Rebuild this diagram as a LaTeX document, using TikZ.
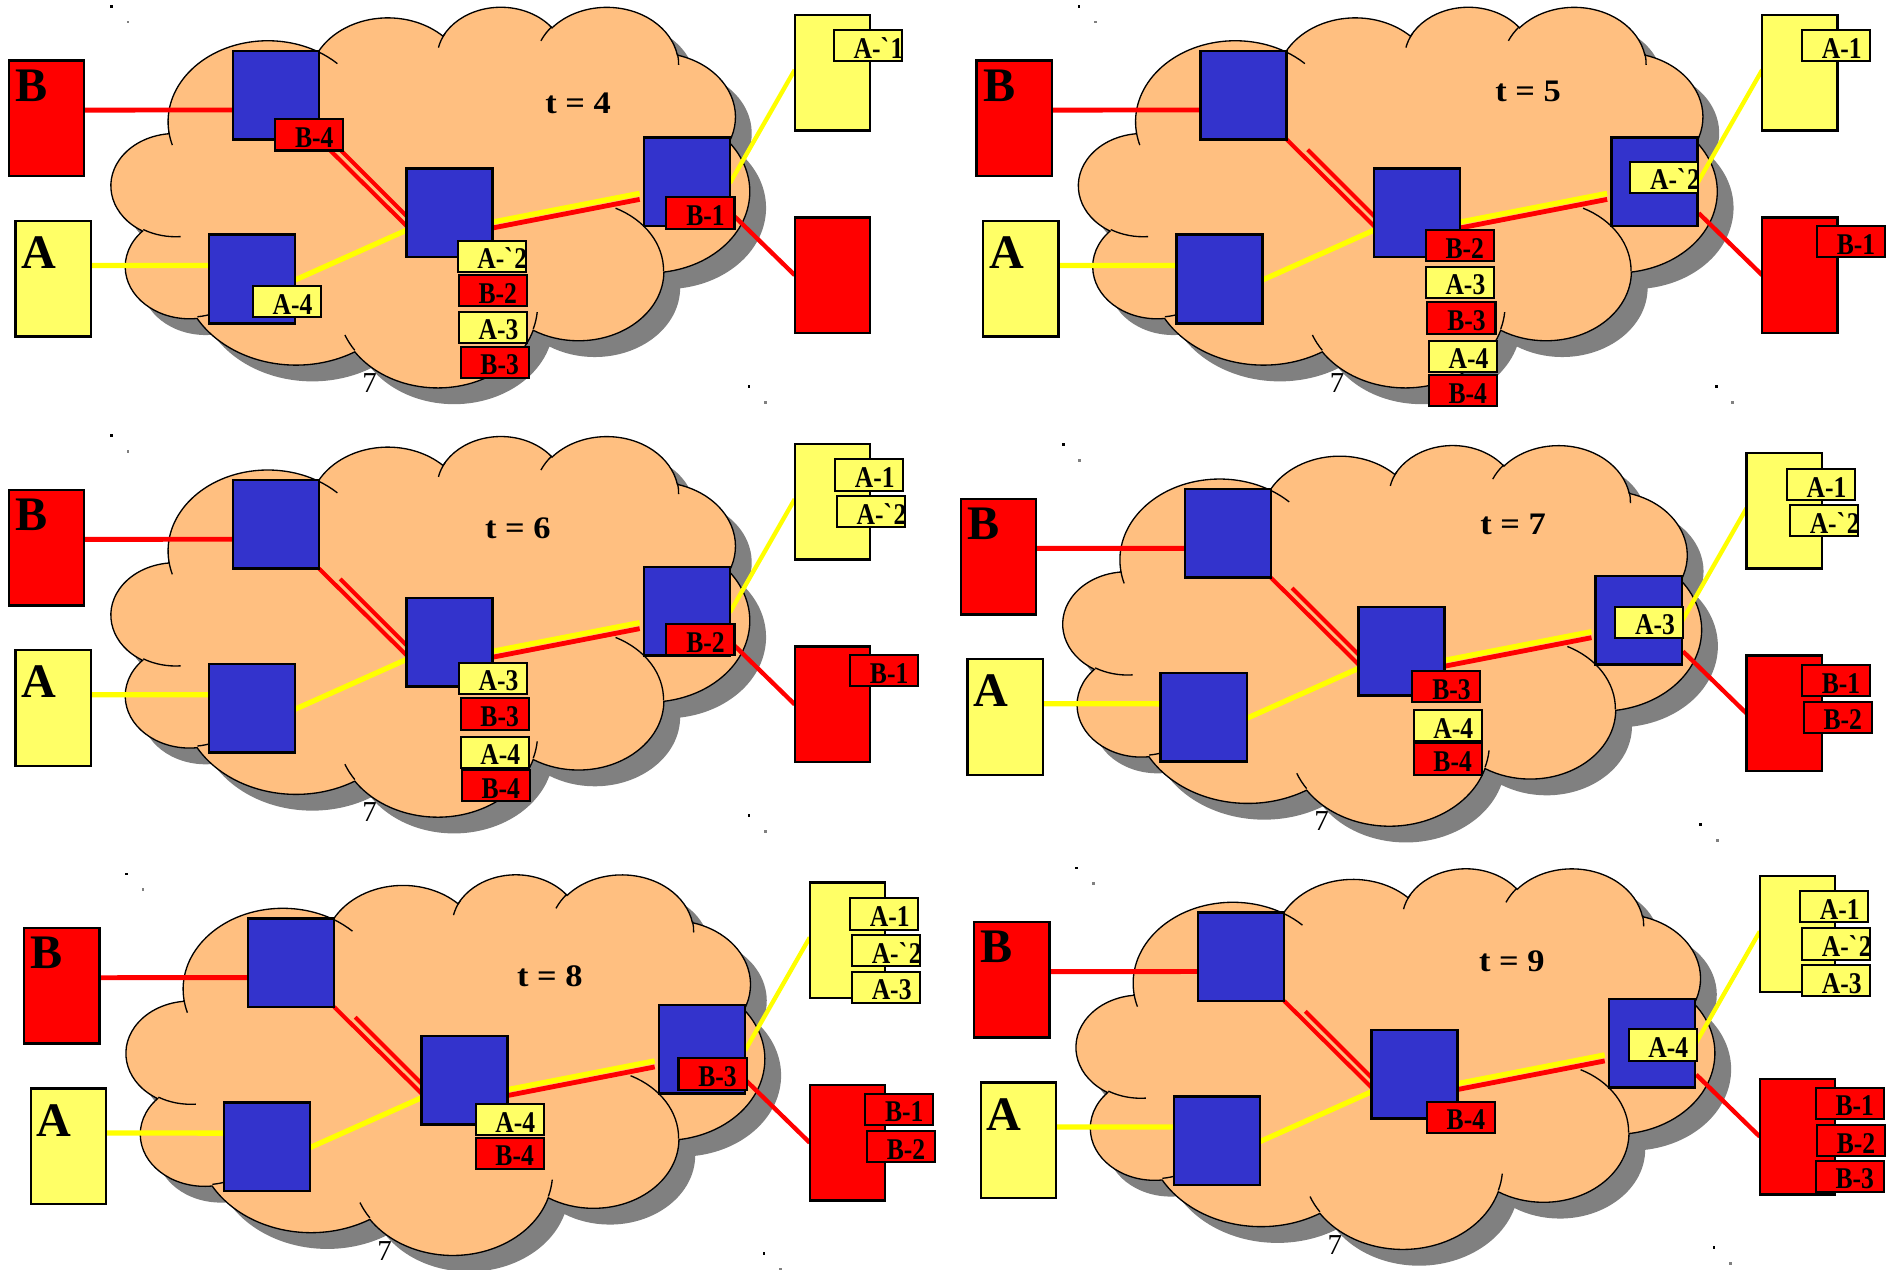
\documentclass[tikz,border=0pt]{standalone}
\usepackage{fontspec}
\setmainfont{Liberation Serif}
\newfontfamily\pktfont{Liberation Serif}[FakeStretch=0.85]
\newfontfamily\tfont{Liberation Serif}[FakeStretch=1.1]
\definecolor{hostred}{HTML}{FF0000}
\definecolor{hostyellow}{HTML}{FFFF66}
\definecolor{lineyellow}{HTML}{FFFF00}
\definecolor{routerblue}{HTML}{3333CC}
\definecolor{cloudfill}{HTML}{FFBF80}
\definecolor{cloudshadow}{HTML}{808080}
\pgfdeclarelayer{bglayer}
\pgfdeclarelayer{cloudlayer}
\pgfdeclarelayer{linelayer}
\pgfsetlayers{bglayer,cloudlayer,linelayer,main}

\makeatletter
\newcommand\addcloudarc[5]{%
  \pgfmathsetmacro\ca@a{atan2((#2)*sin(#4),(#3)*cos(#4))}%
  \pgfmathsetmacro\ca@b{atan2((#2)*sin((#4)+(#5)),(#3)*cos((#4)+(#5)))}%
  \pgfmathsetmacro\ca@d{\ca@b-\ca@a}%
  \pgfmathsetmacro\ca@d{ifthenelse(and(#5>0,\ca@d<0),\ca@d+360,ifthenelse(and(#5<0,\ca@d>0),\ca@d-360,\ca@d))}%
  \xdef#1{#1 arc[start angle=\ca@a, delta angle=\ca@d, x radius=#2pt, y radius=#3pt]}%
}
\makeatother
% PowerPoint preset cloud (coordinates /10 of the 43200 grid)
\xdef\cloudouter{(390pt,1437pt)}
\addcloudarc\cloudouter{675.3}{919.0}{-190.4875}{123.7805}
\addcloudarc\cloudouter{533.3}{726.7}{-144.1024}{89.9452}
\addcloudarc\cloudouter{436.5}{594.5}{-145.8079}{99.7230}
\addcloudarc\cloudouter{485.7}{659.5}{-130.9861}{117.2417}
\addcloudarc\cloudouter{533.3}{727.3}{-78.7089}{109.0269}
\addcloudarc\cloudouter{677.5}{922.0}{-46.2673}{130.2690}
\addcloudarc\cloudouter{578.5}{786.7}{0.6250}{114.0333}
\addcloudarc\cloudouter{675.2}{921.5}{22.4516}{115.1726}
\addcloudarc\cloudouter{772.0}{1054.3}{66.2426}{75.7110}
\addcloudarc\cloudouter{436.0}{591.8}{-274.9421}{146.7356}
\addcloudarc\cloudouter{434.5}{594.5}{-246.8285}{152.5189}
\xdef\cloudouter{\cloudouter -- cycle}
\xdef\cloudinner{(469.3pt,2617.7pt)}
\addcloudarc\cloudinner{434.5}{594.5}{86.7420}{26.4295}
\xdef\cloudinner{\cloudinner (692.8pt,3489.9pt)}
\addcloudarc\cloudinner{436.0}{591.8}{73.6105}{11.4475}
\xdef\cloudinner{\cloudinner (1647.8pt,3909.0pt)}
\addcloudarc\cloudinner{675.2}{921.5}{137.6242}{14.0811}
\xdef\cloudinner{\cloudinner (2882.7pt,3475.1pt)}
\addcloudarc\cloudinner{675.2}{921.5}{6.4533}{15.9984}
\xdef\cloudinner{\cloudinner (3412.9pt,2295.4pt)}
\addcloudarc\cloudinner{578.5}{786.7}{-70.2924}{70.9174}
\xdef\cloudinner{\cloudinner (4179.8pt,1535.4pt)}
\addcloudarc\cloudinner{533.3}{727.3}{30.3180}{27.7515}
\xdef\cloudinner{\cloudinner (3832.4pt,542.6pt)}
\addcloudarc\cloudinner{485.7}{659.5}{-13.7443}{14.8589}
\xdef\cloudinner{\cloudinner (2907.8pt,395.2pt)}
\addcloudarc\cloudinner{485.7}{659.5}{-149.1815}{18.1954}
\xdef\cloudinner{\cloudinner (2214.1pt,472.0pt)}
\addcloudarc\cloudinner{436.5}{594.5}{-163.4943}{20.7582}
\xdef\cloudinner{\cloudinner (1400.0pt,519.2pt)}
\addcloudarc\cloudinner{675.3}{919.0}{-66.7070}{12.3194}
\xdef\cloudinner{\cloudinner (412.7pt,1578.9pt)}
\addcloudarc\cloudinner{675.3}{919.0}{157.6544}{11.8582}

\tikzset{
  host/.style={draw=black, line width=1pt, minimum width=31.25pt, minimum height=48pt, inner sep=0pt, outer sep=0pt},
  router/.style={draw=black, line width=1.1pt, fill=routerblue, minimum width=35.75pt, minimum height=36.75pt, inner sep=0pt, outer sep=0pt},
  pktbox/.style={draw=black, line width=0.85pt, minimum width=28.25pt, minimum height=13pt, inner sep=0pt, outer sep=0pt, text height=11.65pt, text depth=1.35pt, anchor=north west, font=\pktfont\bfseries\fontsize{12.5}{13}\selectfont},
  bigtxt/.style={anchor=base west, inner sep=0pt, font=\bfseries\fontsize{20}{20}\selectfont},
  ttxt/.style={anchor=base west, inner sep=0pt, font=\tfont\bfseries\fontsize{13}{13}\selectfont},
  seventxt/.style={anchor=base west, inner sep=0pt, font=\fontsize{12}{12}\selectfont},
  cloudedge/.style={draw=black, line width=0.55pt},
  redline/.style={draw=hostred, line width=2pt},
  dredline/.style={draw=hostred, line width=1.7pt},
  yelline/.style={draw=lineyellow, line width=2.2pt},
  thinyel/.style={draw=lineyellow, line width=1.8pt},
  thinred/.style={draw=hostred, line width=1.8pt}
}
\newcommand\pkt[4]{\node[pktbox, fill=#2] (#1) at (#3) {\makebox[28.25pt][l]{\hspace*{8.25pt}#4}};}
\newcommand\netbase[1]{%
  \begin{pgfonlayer}{cloudlayer}
    \begin{scope}[shift={(106,18.5)},xscale=0.0613426,yscale=-0.0365741]
      \fill[cloudshadow] \cloudouter;
    \end{scope}
    \begin{scope}[shift={(92.5,5)},xscale=0.0613426,yscale=-0.0365741]
      \fill[cloudfill] \cloudouter;
      \draw[cloudedge] \cloudouter;
      \draw[cloudedge] \cloudinner;
    \end{scope}
  \end{pgfonlayer}
  \node[host,fill=hostred] (#1B) at (38.75,98.25) {};
  \node[host,fill=hostyellow] (#1A) at (44.25,231.5) {};
  \node[host,fill=hostyellow] (#1DA) at (691.25,60.25) {};
  \node[host,fill=hostred] (#1DB) at (691.25,228.5) {};
  \node[router] (#1R1) at (229.25,79) {};
  \node[router] (#1R2) at (209.25,231.75) {};
  \node[router] (#1R3) at (373.25,176.75) {};
  \node[router] (#1R4) at (570.5,151) {};
  \node[bigtxt] (#1Bt) at (12.5,84) {B};
  \node[bigtxt] (#1At) at (17.5,223) {A};
  \node[seventxt] (#1s) at (300.6,326) {7};
  \fill[black] (91.4,4.2) rectangle +(2.4,2.4);
  \fill[cloudshadow] (105.1,17.1) rectangle +(2.4,2.4);
  \fill[black] (620.8,319.6) rectangle +(2.4,2.4);
  \fill[cloudshadow] (634.4,332.9) rectangle +(2.4,2.4);
  \begin{pgfonlayer}{linelayer}
    \draw[redline] ([yshift=3.4pt]#1B.east) -- ([yshift=-6.2pt]#1R1.west);
    \draw[yelline] ([yshift=5.5pt]#1A.east) -- ([yshift=5.6pt]#1R2.west);
    \draw[yelline] ([yshift=-0.4pt]#1R2.east) -- ([xshift=0.75pt,yshift=-6.9pt]#1R3.west);
    \draw[dredline] (#1R1.south east) -- ([xshift=1pt,yshift=-6.4pt]#1R3.west);
    \draw[dredline] ([xshift=8.75pt,yshift=-4.3pt]#1R1.south east) -- ([xshift=1pt,yshift=-2.3pt]#1R3.west);
    \draw[yelline] ([xshift=-1.25pt,yshift=-4.1pt]#1R3.east) -- ([xshift=-1.75pt,yshift=-4.8pt]#1R4.west);
    \draw[redline] ([xshift=-0.5pt,yshift=-6.4pt]#1R3.east) -- ([xshift=-1.75pt,yshift=-7.3pt]#1R4.west);
    \draw[thinyel] ([yshift=-0.5pt]#1R4.east) -- ([yshift=1.1pt]#1DA.west);
    \draw[thinred] ([xshift=0.5pt,yshift=-13pt]#1R4.east) -- (#1DB.west);
  \end{pgfonlayer}
}

\begin{document}
\begin{tikzpicture}[x=0.5pt,y=-0.5pt]
\useasboundingbox (0,0) rectangle (1568,1054);
\begin{pgfonlayer}{bglayer}
\fill[white] (0,0) rectangle (1568,1054);
\end{pgfonlayer}
% ---- t = 4
\begin{scope}[shift={(0,0)}]
  \netbase{p1}
  \node[ttxt] (p1t) at (452.5,94) {t = 4};
  \pkt{p1b4}{hostred}{228.5,99}{B-4}
  \pkt{p1a4}{hostyellow}{210,237.5}{A-4}
  \pkt{p1a2}{hostyellow}{380,200}{A-\textasciigrave2}
  \pkt{p1b2}{hostred}{381,228.4}{B-2}
  \pkt{p1a3}{hostyellow}{381,259}{A-3}
  \pkt{p1b3}{hostred}{382.5,288}{B-3}
  \pkt{p1b1}{hostred}{553.5,164}{B-1}
  \pkt{p1a1}{hostyellow}{692.5,25}{A-\textasciigrave1}
\end{scope}
% ---- t = 5
\begin{scope}[shift={(803.5,0)}]
  \netbase{p2}
  \node[ttxt] (p2t) at (438,84) {t = 5};
  \pkt{p2a2}{hostyellow}{550.5,134.3}{A-\textasciigrave2}
  \pkt{p2b2}{hostred}{380.5,191}{B-2}
  \pkt{p2a3}{hostyellow}{380.5,221.5}{A-3}
  \pkt{p2b3}{hostred}{382,251}{B-3}
  \pkt{p2a4}{hostyellow}{383,283}{A-4}
  \pkt{p2b4}{hostred}{383,311.5}{B-4}
  \pkt{p2a1}{hostyellow}{693,25}{A-1}
  \pkt{p2b1}{hostred}{705.5,187.7}{B-1}
\end{scope}
% ---- t = 6
\begin{scope}[shift={(0,356.5)}]
  \netbase{p3}
  \node[ttxt] (p3t) at (402.5,90.6) {t = 6};
  \pkt{p3a1}{hostyellow}{693.5,25}{A-1}
  \pkt{p3a2}{hostyellow}{695,55.4}{A-\textasciigrave2}
  \pkt{p3b2}{hostred}{553.5,161.7}{B-2}
  \pkt{p3b1}{hostred}{706,187.5}{B-1}
  \pkt{p3a3}{hostyellow}{381,193.8}{A-3}
  \pkt{p3b3}{hostred}{382.5,223.5}{B-3}
  \pkt{p3a4}{hostyellow}{382.5,255.3}{A-4}
  \pkt{p3b4}{hostred}{383.5,283}{B-4}
\end{scope}
% ---- t = 7
\begin{scope}[shift={(790.5,364)}]
  \netbase{p4}
  \node[ttxt] (p4t) at (438.5,80.3) {t = 7};
  \pkt{p4a1}{hostyellow}{693.5,25.5}{A-1}
  \pkt{p4a2}{hostyellow}{696,55.4}{A-\textasciigrave2}
  \pkt{p4a3}{hostyellow}{551,139.8}{A-3}
  \pkt{p4b1}{hostred}{706,188.3}{B-1}
  \pkt{p4b2}{hostred}{707.5,218.7}{B-2}
  \pkt{p4b3}{hostred}{382.5,193.3}{B-3}
  \pkt{p4a4}{hostyellow}{383.5,225.7}{A-4}
  \pkt{p4b4}{hostred}{383.5,253.4}{B-4}
\end{scope}
% ---- t = 8
\begin{scope}[shift={(12.5,720.5)}]
  \netbase{p5}
  \node[ttxt] (p5t) at (416.5,98.9) {t = 8};
  \pkt{p5a1}{hostyellow}{693.5,25.5}{A-1}
  \pkt{p5a2}{hostyellow}{695,56}{A-\textasciigrave2}
  \pkt{p5a3}{hostyellow}{695,86.4}{A-3}
  \pkt{p5b3}{hostred}{551,158.4}{B-3}
  \pkt{p5b1}{hostred}{706,188}{B-1}
  \pkt{p5b2}{hostred}{707.5,218.8}{B-2}
  \pkt{p5a4}{hostyellow}{382.5,196.4}{A-4}
  \pkt{p5b4}{hostred}{382.5,224.3}{B-4}
\end{scope}
% ---- t = 9
\begin{scope}[shift={(801.5,715.5)}]
  \netbase{p6}
  \node[ttxt] (p6t) at (426.5,91.4) {t = 9};
  \pkt{p6a1}{hostyellow}{693.5,24.6}{A-1}
  \pkt{p6a2}{hostyellow}{695,55.5}{A-\textasciigrave2}
  \pkt{p6a3}{hostyellow}{695,85.9}{A-3}
  \pkt{p6a4}{hostyellow}{551,139.3}{A-4}
  \pkt{p6b1}{hostred}{706.5,187.8}{B-1}
  \pkt{p6b2}{hostred}{707.5,218.8}{B-2}
  \pkt{p6b3}{hostred}{706.5,248.4}{B-3}
  \pkt{p6b4}{hostred}{383.5,199.4}{B-4}
\end{scope}
\end{tikzpicture}
\end{document}
